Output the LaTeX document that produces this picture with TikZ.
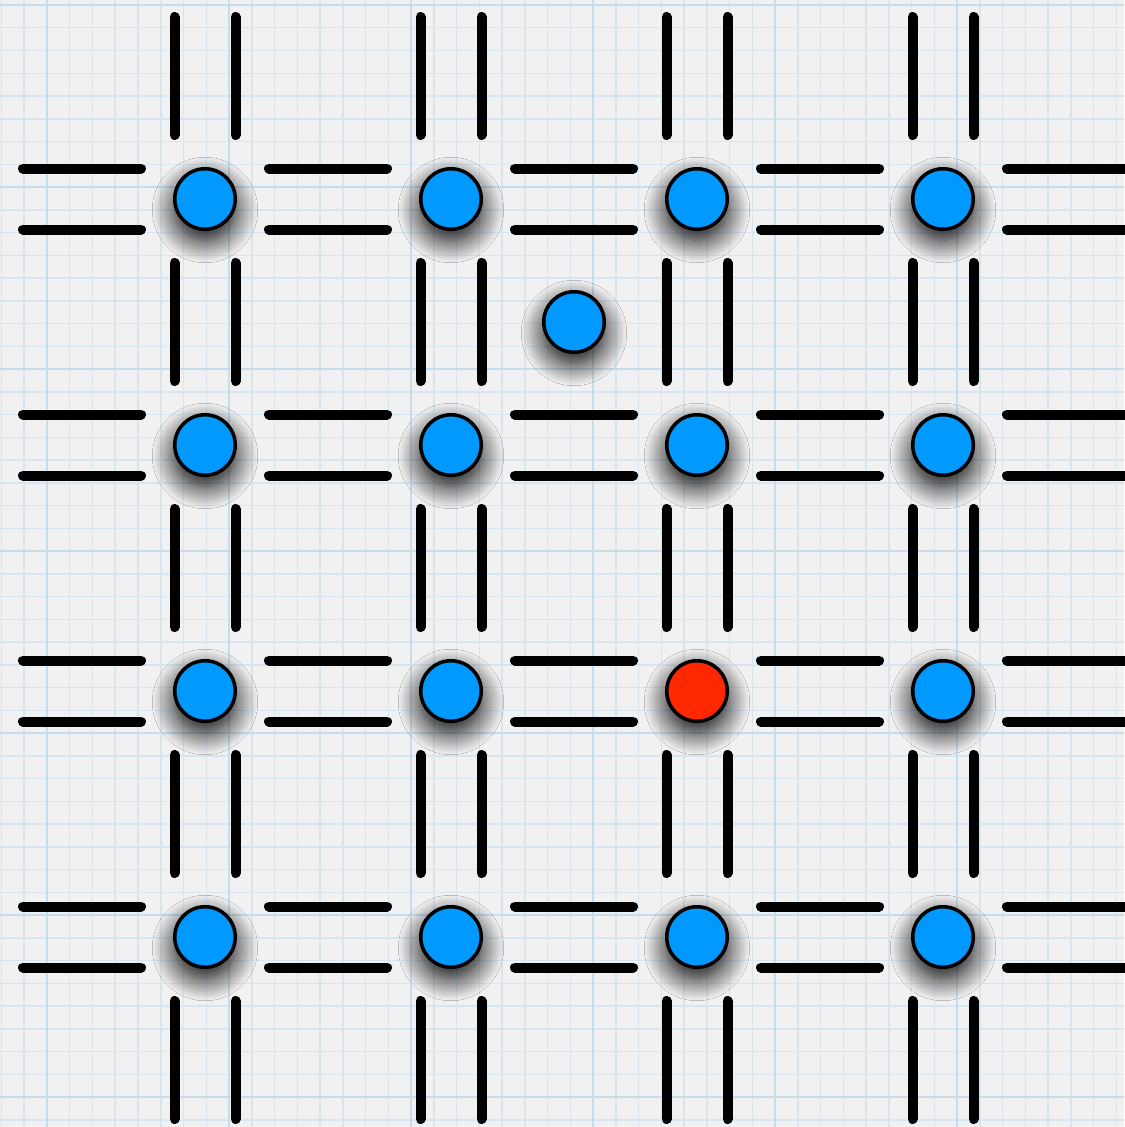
\documentclass[tikz,border=0pt]{standalone}
\usepackage{tikz}
\usetikzlibrary{shadows.blur}
\definecolor{ballblue}{RGB}{0,153,255}
\definecolor{ballred}{RGB}{255,40,0}
\definecolor{paper}{RGB}{241,241,242}
\definecolor{gridminor}{RGB}{214,230,241}
\definecolor{gridmajor}{RGB}{198,221,237}

\begin{document}
\begin{tikzpicture}[
  ball/.style={circle, draw=black, line width=0.07cm, fill=ballblue,
    minimum size=1.21cm, inner sep=0pt,
    blur shadow={shadow xshift=0cm, shadow yshift=-0.22cm,
      shadow blur radius=0.45cm, shadow opacity=100, shadow scale=1.0,
      shadow blur steps=20}},
  redball/.style={ball, fill=ballred},
  rod/.style={line width=0.2cm, line cap=round, shorten <=1.28cm, shorten >=1.28cm}]
\useasboundingbox (-4.10,3.98) rectangle (18.38,-18.56);
% graph paper
\fill[paper] (-4.10,3.98) rectangle (18.38,-18.56);
\begin{scope}
\clip (-4.10,3.98) rectangle (18.38,-18.56);
\begin{scope}[shift={(-3.16,3.88)}]
\draw[gridminor, line width=0.03cm, step=0.455cm] (-3.64,-25.48) grid (21.84,3.64);
\draw[gridmajor, line width=0.05cm, step=3.64cm] (-3.64,-25.48) grid (21.84,3.64);
\end{scope}
\end{scope}
% lattice points, the outer ring lies off the page
\foreach \c in {0,...,5} \foreach \r in {0,...,5}
  \coordinate (p\c\r) at ({(\c-1)*4.92},{-(\r-1)*4.92});
% double walls
\foreach \r in {1,...,4} \foreach \c [count=\d] in {0,...,4} {
  \draw[rod] ([yshift=0.61cm]p\c\r) -- ([yshift=0.61cm]p\d\r);
  \draw[rod] ([yshift=-0.61cm]p\c\r) -- ([yshift=-0.61cm]p\d\r);
}
\foreach \c in {1,...,4} \foreach \r [count=\s] in {0,...,4} {
  \draw[rod] ([xshift=-0.61cm]p\c\r) -- ([xshift=-0.61cm]p\c\s);
  \draw[rod] ([xshift=0.61cm]p\c\r) -- ([xshift=0.61cm]p\c\s);
}
% balls
\node[ball] (n11) at (p11) {}; \node[ball] (n21) at (p21) {};
\node[ball] (n31) at (p31) {}; \node[ball] (n41) at (p41) {};
\node[ball] (n12) at (p12) {}; \node[ball] (n22) at (p22) {};
\node[ball] (n32) at (p32) {}; \node[ball] (n42) at (p42) {};
\node[ball] (n13) at (p13) {}; \node[ball] (n23) at (p23) {};
\node[redball] (n33) at (p33) {}; \node[ball] (n43) at (p43) {};
\node[ball] (n14) at (p14) {}; \node[ball] (n24) at (p24) {};
\node[ball] (n34) at (p34) {}; \node[ball] (n44) at (p44) {};
\node[ball] (nx) at (7.38,-2.46) {};
\end{tikzpicture}
\end{document}
